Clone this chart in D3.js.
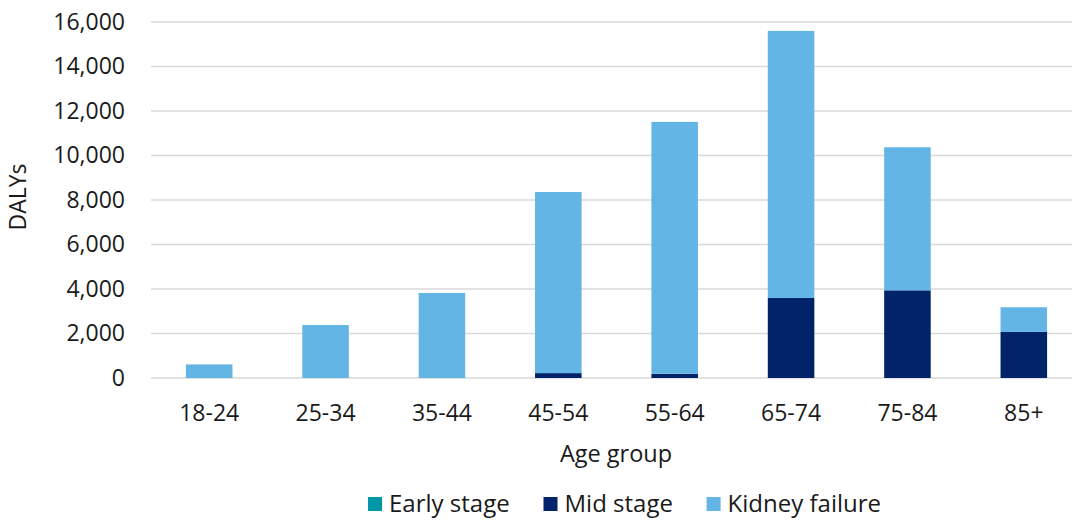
<!DOCTYPE html>
<html>
<head>
<meta charset="utf-8">
<script src="https://cdn.jsdelivr.net/npm/d3@7"></script>
<style>
  html, body { margin: 0; padding: 0; background: #fff; }
  svg { display: block; font-family: "Open Sans", sans-serif; }
</style>
</head>
<body>
<svg id="chart" width="1072" height="524"></svg>
<script>
// Disability-adjusted life years by age group and disease stage
const ageGroups = ["18-24", "25-34", "35-44", "45-54", "55-64", "65-74", "75-84", "85+"];
const earlyStage = [0, 0, 0, 0, 0, 0, 0, 0];
const midStage = [0, 0, 0, 220, 190, 3600, 3940, 2070];
const kidneyFailure = [610, 2380, 3820, 8140, 11320, 12000, 6430, 1110];
const seriesNames = ["Early stage", "Mid stage", "Kidney failure"];
const seriesColors = ["#0098A8", "#00236A", "#62B5E5"];
const yTicks = [0, 2000, 4000, 6000, 8000, 10000, 12000, 14000, 16000];

const svg = d3.select("#chart");
const margin = { left: 151, right: -10, top: 22, bottom: 146 };
const W = 1072, H = 524;
const textColor = "#1a1a1a";

const rows = ageGroups.map((g, i) => ({
  group: g,
  "Early stage": earlyStage[i],
  "Mid stage": midStage[i],
  "Kidney failure": kidneyFailure[i]
}));
const stacked = d3.stack().keys(seriesNames)(rows);

const x = d3.scaleBand()
  .domain(ageGroups)
  .range([margin.left, W - margin.right])
  .paddingInner(0.6)
  .paddingOuter(0.3);

const y = d3.scaleLinear()
  .domain([0, 16000])
  .range([H - margin.bottom, margin.top]);

const color = d3.scaleOrdinal().domain(seriesNames).range(seriesColors);

// Horizontal gridlines
svg.append("g")
  .selectAll("line")
  .data(yTicks)
  .join("line")
  .attr("x1", margin.left)
  .attr("x2", W)
  .attr("y1", d => y(d))
  .attr("y2", d => y(d))
  .attr("stroke", "#d9d9d9")
  .attr("stroke-width", 1.6);

// Y axis labels
const yAxis = d3.axisLeft(y)
  .tickValues(yTicks)
  .tickFormat(d3.format(","))
  .tickSize(0)
  .tickPadding(26);
const yG = svg.append("g")
  .attr("transform", `translate(${margin.left},0)`)
  .call(yAxis);
yG.select(".domain").remove();
yG.selectAll("text")
  .attr("font-size", 23)
  .attr("font-family", "Open Sans")
  .attr("fill", textColor);

// Stacked bars
svg.append("g")
  .selectAll("g")
  .data(stacked)
  .join("g")
  .attr("fill", d => color(d.key))
  .selectAll("rect")
  .data(d => d)
  .join("rect")
  .attr("x", d => x(d.data.group))
  .attr("width", x.bandwidth())
  .attr("y", d => y(d[1]))
  .attr("height", d => y(d[0]) - y(d[1]));

// X axis
const xAxis = d3.axisBottom(x).tickSize(0).tickPadding(27);
const xG = svg.append("g")
  .attr("transform", `translate(0,${y(0)})`)
  .call(xAxis);
xG.select(".domain").remove();
xG.selectAll("text")
  .attr("font-size", 23)
  .attr("font-family", "Open Sans")
  .attr("fill", textColor);

// Axis titles
svg.append("text")
  .attr("transform", `translate(26,197) rotate(-90)`)
  .attr("text-anchor", "middle")
  .attr("font-size", 23)
  .attr("fill", textColor)
  .text("DALYs");

svg.append("text")
  .attr("x", 616)
  .attr("y", 462)
  .attr("text-anchor", "middle")
  .attr("font-size", 23.5)
  .attr("fill", textColor)
  .text("Age group");

// Legend
const legend = svg.append("g").attr("transform", "translate(368,504)");
const legendX = [0, 175.5, 338.6];
seriesNames.forEach((name, i) => {
  const item = legend.append("g").attr("transform", `translate(${legendX[i]},0)`);
  item.append("rect")
    .attr("x", 0).attr("y", -7)
    .attr("width", 14).attr("height", 14)
    .attr("fill", color(name));
  item.append("text")
    .attr("x", 21).attr("y", 0)
    .attr("dy", "0.35em")
    .attr("font-size", 24)
    .attr("fill", textColor)
    .text(name);
});
</script>
</body>
</html>
